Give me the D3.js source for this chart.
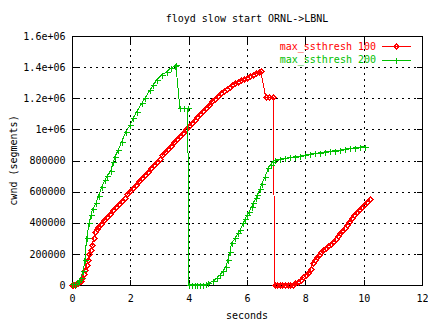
<!DOCTYPE html>
<html>
<head>
<meta charset="utf-8">
<script src="https://cdn.jsdelivr.net/npm/d3@7"></script>
<style>
body { margin: 0; background: #fff; }
svg { display: block; font-family: "DejaVu Sans Mono", monospace; font-size: 10px; }
</style>
</head>
<body>
<div id="chart"></div>
<script>
var titleText = "floyd slow start ORNL->LBNL";
var xLabel = "seconds";
var yLabel = "cwnd (segments)";
var xTicks = [0, 2, 4, 6, 8, 10, 12];
var yTicks = [0, 200000, 400000, 600000, 800000, 1000000, 1200000, 1400000, 1600000];
var yTickLabels = ["0", "200000", "400000", "600000", "800000", "1e+06", "1.2e+06", "1.4e+06", "1.6e+06"];
var seriesNames = ["max_ssthresh 100", "max_ssthresh 200"];

// [seconds, cwnd]
var ssthresh100 = [
    [0.00, 0], [0.05, 1000], [0.10, 3000], [0.15, 6000], [0.20, 11000], [0.25, 18000],
    [0.30, 28000], [0.35, 45000], [0.40, 68000], [0.45, 96000], [0.50, 128000], [0.55, 160000],
    [0.60, 197000], [0.65, 228000], [0.70, 257000], [0.74, 300000], [0.78, 343000], [0.84, 362000],
    [0.90, 374000], [1.00, 395000], [1.10, 416000], [1.20, 437000], [1.30, 458000], [1.40, 479000],
    [1.50, 500000], [1.60, 520000], [1.70, 541000], [1.80, 562000], [1.90, 583000], [2.00, 603000],
    [2.10, 624000], [2.20, 645000], [2.30, 666000], [2.40, 687000], [2.50, 708000], [2.60, 729000],
    [2.70, 750000], [2.80, 770000], [2.90, 791000], [3.00, 812000], [3.10, 833000], [3.20, 854000],
    [3.30, 875000], [3.40, 896000], [3.50, 917000], [3.60, 937000], [3.70, 958000], [3.80, 979000],
    [3.90, 1000000], [4.00, 1021000], [4.10, 1041000], [4.20, 1061000], [4.30, 1081000], [4.40, 1100000],
    [4.50, 1119000], [4.60, 1137000], [4.70, 1155000], [4.80, 1180000], [4.90, 1198000], [5.00, 1216000],
    [5.10, 1233000], [5.20, 1248000], [5.30, 1262000], [5.40, 1275000], [5.50, 1287000], [5.60, 1297000],
    [5.70, 1306000], [5.80, 1315000], [5.90, 1324000], [6.00, 1333000], [6.10, 1342000], [6.20, 1351000],
    [6.30, 1360000], [6.40, 1369000], [6.47, 1377000], [6.64, 1208000], [6.77, 1208000], [6.90, 1208000],
    [6.95, 1000], [7.03, 1000], [7.12, 1000], [7.21, 1000], [7.30, 1000], [7.39, 1000], [7.48, 1000],
    [7.57, 3000], [7.66, 12000], [7.76, 21000], [7.85, 34000], [7.93, 49000], [8.02, 62000],
    [8.10, 75000], [8.18, 101000], [8.25, 139000], [8.33, 161000], [8.40, 177000], [8.48, 193000],
    [8.55, 209000], [8.62, 225000], [8.70, 238000], [8.79, 251000], [8.87, 264000], [8.96, 278000],
    [9.04, 297000], [9.11, 314000], [9.19, 332000], [9.27, 350000], [9.35, 368000], [9.42, 386000],
    [9.50, 406000], [9.59, 428000], [9.67, 450000], [9.76, 471000], [9.84, 485000], [9.93, 499000],
    [10.01, 516000], [10.10, 532000], [10.22, 551000]
];
var ssthresh200 = [
    [0.00, 5000], [0.07, 5000], [0.14, 6000], [0.19, 19000], [0.25, 30000], [0.31, 47000],
    [0.39, 90000], [0.44, 160000], [0.50, 300000], [0.59, 396000], [0.65, 450000], [0.71, 488000],
    [0.82, 525000], [0.91, 572000], [1.02, 632000], [1.13, 675000], [1.21, 700000], [1.33, 734000],
    [1.42, 792000], [1.47, 824000], [1.59, 868000], [1.70, 921000], [1.85, 985000], [1.99, 1028000],
    [2.10, 1071000], [2.22, 1114000], [2.39, 1168000], [2.50, 1200000], [2.67, 1253000], [2.79, 1285000],
    [2.90, 1317000], [3.07, 1349000], [3.25, 1371000], [3.38, 1392000], [3.53, 1410000], [3.56, 1414000],
    [3.70, 1135000], [3.84, 1135000], [3.97, 1135000], [4.00, 2000], [4.10, 2000], [4.20, 2000],
    [4.30, 2000], [4.40, 2000], [4.50, 2000], [4.60, 4000], [4.67, 11000], [4.84, 26000],
    [4.96, 43000], [5.07, 64000], [5.19, 92000], [5.27, 114000], [5.34, 160000], [5.42, 214000],
    [5.47, 268000], [5.59, 300000], [5.70, 332000], [5.76, 353000], [5.87, 396000], [5.93, 422000],
    [6.01, 450000], [6.08, 471000], [6.16, 503000], [6.22, 529000], [6.31, 557000], [6.35, 578000],
    [6.45, 615000], [6.50, 648000], [6.62, 696000], [6.73, 750000], [6.81, 771000], [6.88, 792000],
    [6.96, 803000], [7.13, 810000], [7.30, 814000], [7.47, 820000], [7.64, 824000], [7.82, 829000],
    [7.99, 835000], [8.16, 840000], [8.33, 846000], [8.50, 850000], [8.67, 855000], [8.84, 859000],
    [9.02, 863000], [9.19, 867000], [9.36, 874000], [9.53, 878000], [9.70, 882000], [9.87, 887000],
    [10.04, 889000]
];
var seriesColors = ["#ff0000", "#00c000"];

var width = 428, height = 321;
var plotLeft = 72, plotRight = 422, plotTop = 36, plotBottom = 285;
var tickLen = 6;

var svg = d3.select("#chart").append("svg")
    .attr("width", width)
    .attr("height", height)
    .attr("shape-rendering", "crispEdges");

var x = d3.scaleLinear().domain([0, 12]).range([plotLeft, plotRight]);
var y = d3.scaleLinear().domain([0, 1600000]).range([plotBottom, plotTop]);

// dotted grid
var grid = svg.append("g")
    .attr("stroke", "#000")
    .attr("stroke-dasharray", "2,4");
grid.selectAll("line.gx").data(xTicks.slice(1, -1)).enter().append("line")
    .attr("x1", function(d) { return x(d) + 0.5; })
    .attr("x2", function(d) { return x(d) + 0.5; })
    .attr("y1", plotBottom)
    .attr("y2", plotTop);
grid.selectAll("line.gy").data(yTicks.slice(1, -1)).enter().append("line")
    .attr("y1", function(d) { return y(d) + 0.5; })
    .attr("y2", function(d) { return y(d) + 0.5; })
    .attr("x1", plotLeft)
    .attr("x2", plotRight);

// axes, ticks point inward on all four sides
var bottomAxis = d3.axisBottom(x).tickValues(xTicks).tickSize(-tickLen).tickPadding(9).tickFormat(d3.format("d"));
var topAxis = d3.axisTop(x).tickValues(xTicks).tickSize(-tickLen).tickFormat("");
var leftAxis = d3.axisLeft(y).tickValues(yTicks).tickSize(-tickLen).tickPadding(7)
    .tickFormat(function(d, i) { return yTickLabels[i]; });
var rightAxis = d3.axisRight(y).tickValues(yTicks).tickSize(-tickLen).tickFormat("");

var styleAxis = function(g) {
    g.select(".domain").remove();
    g.selectAll("text").attr("font-family", "DejaVu Sans Mono, monospace").attr("font-size", 10).attr("fill", "#000");
    g.selectAll("line").attr("stroke", "#000");
};

svg.append("g").attr("transform", "translate(0," + (plotBottom + 0.5) + ")").call(bottomAxis).call(styleAxis);
svg.append("g").attr("transform", "translate(0," + (plotTop + 0.5) + ")").call(topAxis).call(styleAxis);
svg.append("g").attr("transform", "translate(" + (plotLeft + 0.5) + ",0)").call(leftAxis).call(styleAxis);
svg.append("g").attr("transform", "translate(" + (plotRight + 0.5) + ",0)").call(rightAxis).call(styleAxis);

svg.append("rect")
    .attr("x", plotLeft + 0.5)
    .attr("y", plotTop + 0.5)
    .attr("width", plotRight - plotLeft)
    .attr("height", plotBottom - plotTop)
    .attr("fill", "none")
    .attr("stroke", "#000");

// titles
svg.append("text")
    .attr("x", (plotLeft + plotRight) / 2)
    .attr("y", 22)
    .attr("text-anchor", "middle")
    .text(titleText);
svg.append("text")
    .attr("x", (plotLeft + plotRight) / 2)
    .attr("y", 319)
    .attr("text-anchor", "middle")
    .text(xLabel);
svg.append("text")
    .attr("transform", "translate(17," + ((plotTop + plotBottom) / 2) + ") rotate(-90)")
    .attr("text-anchor", "middle")
    .text(yLabel);

// point shapes: diamond for the first series, plus for the second
var diamond = function(cx, cy) {
    var r = 2.5;
    return "M" + cx + "," + (cy - r) + "L" + (cx + r) + "," + cy + "L" + cx + "," + (cy + r) + "L" + (cx - r) + "," + cy + "Z";
};
var plus = function(cx, cy) {
    var r = 3;
    return "M" + (cx - r) + "," + cy + "H" + (cx + r) + "M" + cx + "," + (cy - r) + "V" + (cy + r);
};
var shapes = [diamond, plus];

var line = d3.line()
    .x(function(d) { return x(d[0]); })
    .y(function(d) { return y(d[1]); });

var drawSeries = function(data, i) {
    var g = svg.append("g").attr("fill", "none").attr("stroke", seriesColors[i]);
    g.append("path").datum(data).attr("d", line);
    g.selectAll("path.pt").data(data).enter().append("path")
        .attr("class", "pt")
        .attr("d", function(d) { return shapes[i](Math.round(x(d[0])) + 0.5, Math.round(y(d[1])) + 0.5); });
};

drawSeries(ssthresh100, 0);
drawSeries(ssthresh200, 1);

// key, top right
var key = svg.append("g");
seriesNames.forEach(function(name, i) {
    var ky = 46 + i * 13.5;
    key.append("text")
        .attr("x", 376)
        .attr("y", ky)
        .attr("dy", "0.35em")
        .attr("text-anchor", "end")
        .attr("fill", seriesColors[i])
        .text(name);
    key.append("line")
        .attr("x1", 382).attr("x2", 411)
        .attr("y1", Math.round(ky) + 0.5).attr("y2", Math.round(ky) + 0.5)
        .attr("stroke", seriesColors[i]);
    key.append("path")
        .attr("d", shapes[i](396.5, Math.round(ky) + 0.5))
        .attr("fill", "none")
        .attr("stroke", seriesColors[i]);
});
</script>
</body>
</html>
